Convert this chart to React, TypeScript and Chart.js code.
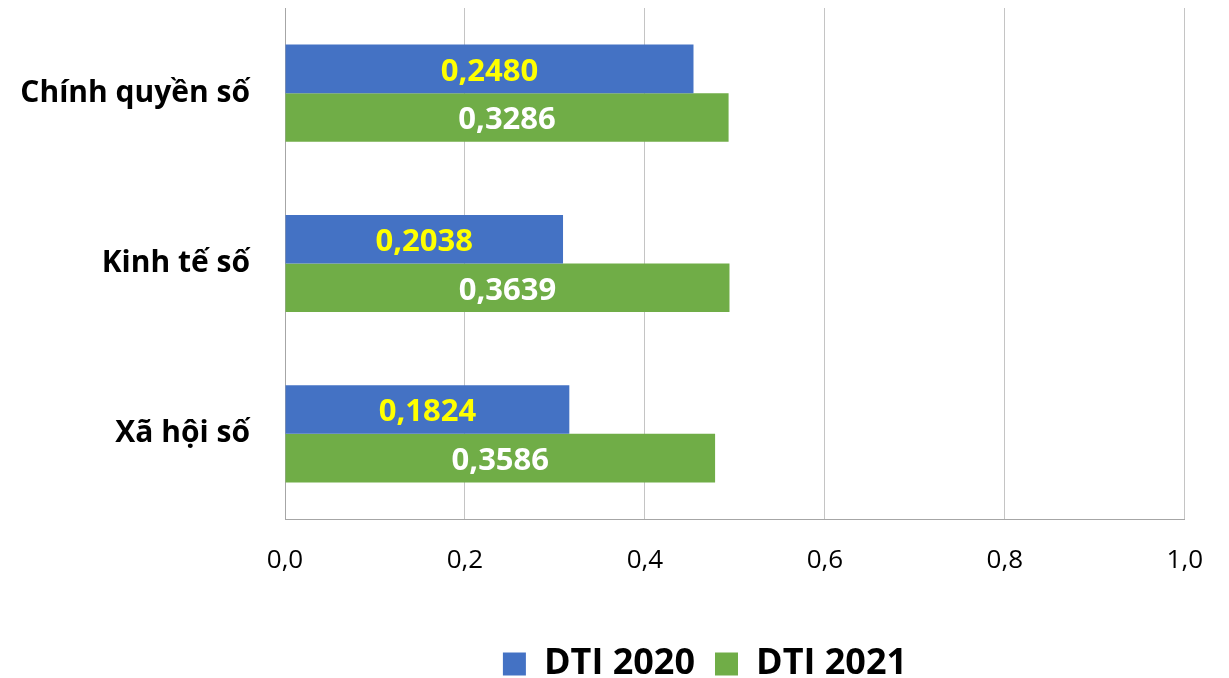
import React, { useEffect, useRef } from "react";
import { Chart, registerables } from "chart.js";

Chart.register(...registerables);

const categories = ["Chính quyền số", "Kinh tế số", "Xã hội số"];
const seriesNames = ["DTI 2020", "DTI 2021"];
// bar lengths as drawn in the picture
const values2020 = [0.454, 0.309, 0.316];
const values2021 = [0.493, 0.494, 0.478];
// value labels printed on the bars
const labels2020 = ["0,2480", "0,2038", "0,1824"];
const labels2021 = ["0,3286", "0,3639", "0,3586"];
const xTicks = [0, 0.2, 0.4, 0.6, 0.8, 1.0];

const FONT = "'Open Sans', 'Noto Sans', sans-serif";
const PLOT_BOTTOM = 519;
const LEGEND_CENTER_Y = 664;
const LEGEND_CENTER_X = 705;

const barLabelPlugin = {
  id: "barLabels",
  afterDatasetsDraw(chart: any) {
    const ctx = chart.ctx;
    const sets = [
      { labels: labels2020, color: "#FFFF00" },
      { labels: labels2021, color: "#FFFFFF" },
    ];
    sets.forEach((s, di) => {
      const meta = chart.getDatasetMeta(di);
      meta.data.forEach((bar: any, i: number) => {
        const cx = (bar.x + bar.base) / 2;
        ctx.save();
        ctx.font = `bold 31px ${FONT}`;
        ctx.fillStyle = s.color;
        ctx.textAlign = "center";
        ctx.textBaseline = "middle";
        ctx.fillText(s.labels[i], cx, bar.y + 3);
        ctx.restore();
      });
    });
  },
};

const legendShiftPlugin = {
  id: "legendShift",
  afterLayout(chart: any) {
    const lg = chart.legend;
    if (!lg) return;
    const pad = lg.options.labels.padding;
    const itemH = Math.max(lg.options.labels.font.size, lg.options.labels.boxHeight);
    const wantTop = LEGEND_CENTER_Y - pad - itemH / 2;
    const dy = wantTop - lg.top;
    const dx = LEGEND_CENTER_X - (lg.left + lg.right) / 2;
    lg.top += dy;
    lg.bottom += dy;
    lg.left += dx;
    lg.right += dx;
    if (lg.legendHitBoxes) {
      lg.legendHitBoxes.forEach((b: any) => {
        b.top += dy;
        b.left += dx;
      });
    }
  },
};

export default function App() {
  const ref = useRef<HTMLCanvasElement>(null);
  useEffect(() => {
    if (!ref.current) return;
    const chart = new Chart(ref.current, {
      type: "bar",
      data: {
        labels: categories,
        datasets: [
          {
            label: seriesNames[0],
            data: values2020,
            backgroundColor: "#4472C4",
            categoryPercentage: 0.57,
            barPercentage: 1,
          },
          {
            label: seriesNames[1],
            data: values2021,
            backgroundColor: "#70AD47",
            categoryPercentage: 0.57,
            barPercentage: 1,
          },
        ],
      },
      options: {
        indexAxis: "y",
        animation: false,
        responsive: false,
        maintainAspectRatio: false,
        layout: { padding: { top: 8, right: 43, left: 0, bottom: 0 } },
        scales: {
          x: {
            min: 0,
            max: 1,
            afterBuildTicks(scale: any) {
              scale.ticks = xTicks.map((v) => ({ value: v }));
            },
            afterFit(scale: any) {
              const lh = scale.chart.legend ? scale.chart.legend.height : 0;
              scale.height = 678 - PLOT_BOTTOM - lh;
              scale.paddingLeft = 0;
            },
            ticks: {
              padding: 26,
              color: "#000000",
              font: { family: FONT, size: 26 },
              callback: (v: any) => Number(v).toFixed(1).replace(".", ","),
            },
            grid: { color: "#C4C4C4", lineWidth: 1, drawTicks: false },
            border: { color: "#A6A6A6", width: 1 },
          },
          y: {
            afterFit(scale: any) {
              scale.width = 285;
              scale.paddingTop = 0;
              scale.paddingBottom = 0;
            },
            ticks: {
              padding: 35,
              color: "#000000",
              font: { family: FONT, size: 30, weight: "bold" },
            },
            grid: { display: false, drawTicks: false },
            border: { color: "#A6A6A6", width: 1 },
          },
        },
        plugins: {
          legend: {
            position: "bottom",
            labels: {
              color: "#000000",
              font: { family: FONT, size: 36, weight: "bold" },
              boxWidth: 23,
              boxHeight: 23,
              padding: 20,
            },
          },
          tooltip: { enabled: false },
        },
      },
      plugins: [barLabelPlugin, legendShiftPlugin],
    });
    return () => chart.destroy();
  }, []);
  return (
    <div style={{ position: "fixed", left: 0, top: 0, width: 1229, height: 678, background: "#fff" }}>
      <canvas ref={ref} width={1229} height={678} style={{ width: 1229, height: 678 }} />
    </div>
  );
}
